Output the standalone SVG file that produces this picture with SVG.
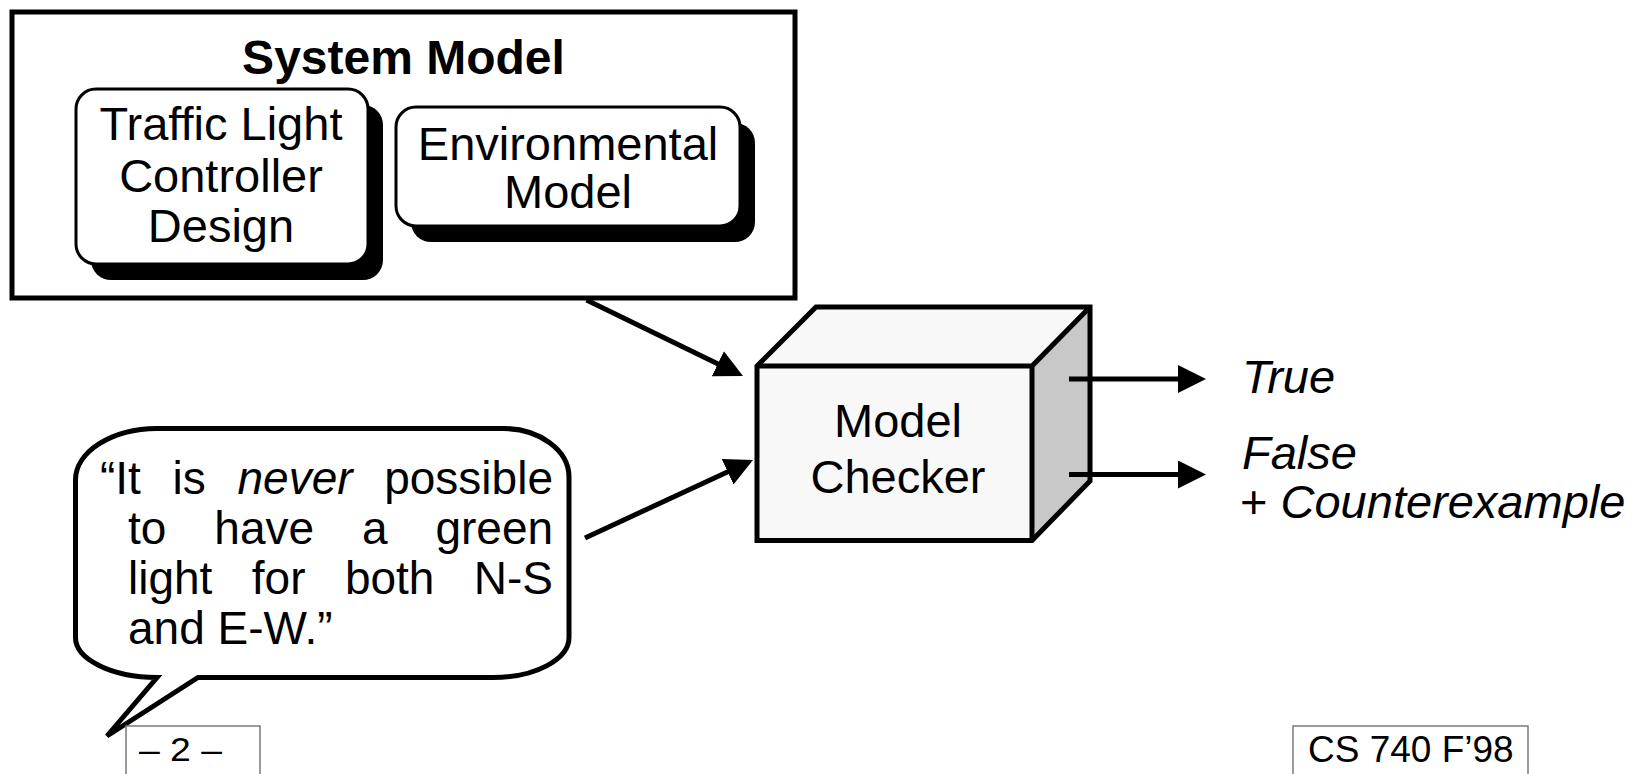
<svg xmlns="http://www.w3.org/2000/svg" width="1641" height="774" viewBox="0 0 1641 774">
  <defs>
    <style>
      text { font-family: "Liberation Sans", Arial, Helvetica, sans-serif; fill: #000; }
      .title { font-size: 48px; font-weight: bold; text-anchor: middle; }
      .body { font-size: 47px; }
      .bubble { font-size: 46px; }
      .mid { text-anchor: middle; }
      .it { font-style: italic; }
      .foot { font-size: 37px; }
      .card { fill: #fff; stroke: #000; stroke-width: 3; }
      .shadow { fill: #000; stroke: none; }
      .edge { fill: none; stroke: #000; stroke-width: 5; stroke-linejoin: miter; stroke-linecap: butt; }
      .wire { fill: none; stroke: #000; stroke-width: 5; marker-end: url(#head); }
      .tag { fill: #fff; stroke: #7a7a7a; stroke-width: 1.5; }
    </style>
    <marker id="head" markerUnits="userSpaceOnUse" markerWidth="28" markerHeight="28" refX="14" refY="14" orient="auto">
      <path d="M0,0 L28,14 L0,28 Z" fill="#000"/>
    </marker>
  </defs>

  <rect width="1641" height="774" fill="#fff"/>

  <!-- System model container with its two sub-models -->
  <g id="system-model">
    <rect x="12" y="12" width="783" height="286" fill="#fff" stroke="#000" stroke-width="5"/>
    <text class="title" x="403.5" y="74">System Model</text>
  </g>

  <g id="traffic-light-controller">
    <rect class="shadow" x="91" y="105" width="292" height="175" rx="20" ry="20"/>
    <rect class="card" x="76" y="89" width="292" height="175" rx="20" ry="20"/>
    <text class="body mid" x="221" y="140" font-size="46.5">Traffic Light</text>
    <text class="body mid" x="221" y="191.5" font-size="46.5">Controller</text>
    <text class="body mid" x="221" y="241.5" font-size="46.5">Design</text>
  </g>

  <g id="environmental-model">
    <rect class="shadow" x="411" y="123" width="344" height="119" rx="20" ry="20"/>
    <rect class="card" x="396" y="107" width="344" height="119" rx="20" ry="20"/>
    <text class="body mid" x="568" y="160">Environmental</text>
    <text class="body mid" x="568" y="208">Model</text>
  </g>

  <!-- Model checker drawn as a box in oblique projection -->
  <g id="model-checker">
    <polygon points="757,366 816,307 1090,307 1032,366" fill="#f8f8f8"/>
    <polygon points="1032,366 1090,307 1090,481 1032,540.5" fill="#c8c8c8"/>
    <rect x="757" y="366" width="275" height="174.5" fill="#f8f8f8"/>
    <path class="edge" d="M757,366 L816,307 L1090,307 L1090,481 L1032,540.5 L757,540.5 Z"/>
    <path class="edge" d="M757,366 L1032,366 L1032,540.5 M1032,366 L1088.5,308.5"/>
    <text class="body mid" x="898" y="437">Model</text>
    <text class="body mid" x="898" y="493">Checker</text>
  </g>

  <!-- Property to check, in a speech bubble -->
  <g id="property">
    <path d="M157,428.5 L503,428.5 A66,48.5 0 0 1 569,477 L569,637 A76,40 0 0 1 493,677.5 L198,677.5 L107,736 L157,677.5 A82,40 0 0 1 75.5,637 L75.5,480 A82,51.5 0 0 1 157,428.5 Z" fill="#fff" stroke="#000" stroke-width="5" stroke-linejoin="miter"/>
    <text class="bubble" y="494"><tspan x="100">“It</tspan><tspan x="172.6">is</tspan><tspan x="237.5" class="it">never</tspan><tspan x="384.2">possible</tspan></text>
    <text class="bubble" y="544"><tspan x="128">to</tspan><tspan x="214.3">have</tspan><tspan x="361.9">a</tspan><tspan x="435.4">green</tspan></text>
    <text class="bubble" y="594"><tspan x="128">light</tspan><tspan x="251.8">for</tspan><tspan x="344.9">both</tspan><tspan x="473.8">N-S</tspan></text>
    <text class="bubble" x="128" y="644">and E-W.”</text>
  </g>

  <!-- Results -->
  <g id="result-true">
    <text class="body it" x="1242" y="393">True</text>
  </g>
  <g id="result-false">
    <text class="body it" x="1242" y="469">False</text>
    <text class="body" x="1240" y="518" font-size="47.5">+ <tspan class="it">Counterexample</tspan></text>
  </g>

  <!-- Connectors -->
  <g id="connectors">
    <line class="wire" x1="586.5" y1="300" x2="730.4" y2="369.9"/>
    <line class="wire" x1="585" y1="538" x2="740.3" y2="465.9"/>
    <line class="wire" x1="1069" y1="379" x2="1192" y2="379"/>
    <line class="wire" x1="1069" y1="474.5" x2="1192" y2="474.5"/>
  </g>

  <!-- Slide footer -->
  <g id="page-number">
    <rect class="tag" x="126" y="726" width="134" height="60"/>
    <text x="139" y="761" font-size="34" textLength="83" lengthAdjust="spacingAndGlyphs">– 2 –</text>
  </g>
  <g id="course-tag">
    <rect class="tag" x="1293" y="726" width="235" height="60"/>
    <text class="foot" x="1308" y="761.5">CS 740 F’98</text>
  </g>
</svg>
